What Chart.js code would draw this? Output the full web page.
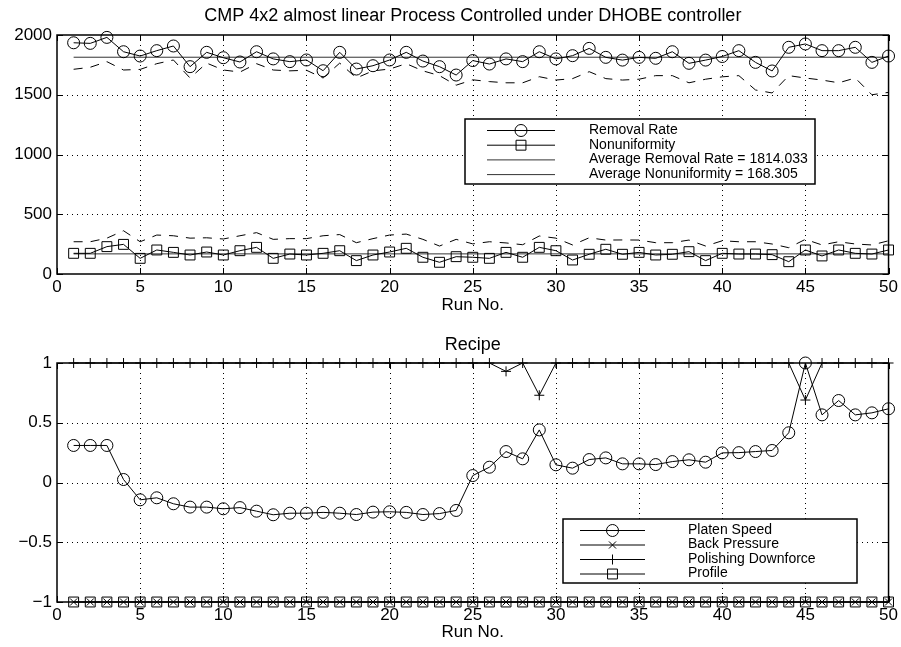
<!DOCTYPE html>
<html><head><meta charset="utf-8">
<script src="https://cdn.jsdelivr.net/npm/chart.js@4.4.1/dist/chart.umd.min.js"></script>
<style>
html,body{margin:0;padding:0;background:#fff;}
#wrap{position:relative;width:901px;height:647px;overflow:hidden;background:#fff;}
#c1{position:absolute;left:0;top:0;}
#c2{position:absolute;left:0;top:323px;}
</style></head><body>
<div id="wrap"><canvas id="c1" width="901" height="323"></canvas><canvas id="c2" width="901" height="324"></canvas></div>
<script>
// ---------------- data ----------------
const runs = [1,2,3,4,5,6,7,8,9,10,11,12,13,14,15,16,17,18,19,20,21,22,23,24,25,26,27,28,29,30,31,32,33,34,35,36,37,38,39,40,41,42,43,44,45,46,47,48,49,50];
const removalRate = [1935,1930,1980,1860,1824,1869,1908,1735,1855,1810,1774,1860,1800,1777,1791,1701,1855,1715,1743,1791,1855,1782,1735,1665,1786,1757,1800,1777,1860,1800,1827,1888,1813,1790,1813,1805,1860,1763,1790,1820,1869,1771,1699,1897,1925,1869,1869,1897,1771,1824];
const nonuniformity = [173,173,229,248,131,201,181,159,184,159,195,223,131,167,159,173,195,112,159,184,215,140,98,145,140,131,181,140,223,195,117,165,207,165,181,159,165,187,112,173,167,167,162,103,201,151,201,173,167,201];
const removalDashed = [1713,1730,1777,1707,1712,1760,1791,1640,1765,1707,1690,1760,1707,1700,1705,1640,1765,1640,1700,1715,1760,1700,1660,1580,1625,1610,1600,1600,1651,1623,1635,1693,1635,1623,1630,1660,1660,1600,1630,1650,1660,1540,1515,1660,1640,1623,1600,1640,1500,1520];
const nonuniformityDashed = [270,270,300,362,270,326,320,300,303,293,320,346,290,296,296,320,330,262,296,326,334,290,234,290,252,270,260,245,318,300,243,303,284,285,284,262,262,284,234,278,270,270,251,220,290,243,270,251,243,278];
const avgRemovalRate = 1814.033;
const avgNonuniformity = 168.305;
const platenSpeed = [0.31,0.31,0.31,0.025,-0.145,-0.128,-0.178,-0.206,-0.206,-0.22,-0.21,-0.24,-0.27,-0.257,-0.257,-0.25,-0.257,-0.268,-0.248,-0.245,-0.25,-0.268,-0.26,-0.234,0.058,0.128,0.259,0.198,0.44,0.148,0.12,0.192,0.206,0.156,0.156,0.15,0.175,0.19,0.17,0.248,0.25,0.259,0.268,0.416,1.0,0.566,0.686,0.566,0.583,0.617];
const backPressure = [-1,-1,-1,-1,-1,-1,-1,-1,-1,-1,-1,-1,-1,-1,-1,-1,-1,-1,-1,-1,-1,-1,-1,-1,-1,-1,-1,-1,-1,-1,-1,-1,-1,-1,-1,-1,-1,-1,-1,-1,-1,-1,-1,-1,-1,-1,-1,-1,-1,-1];
const polishingDownforce = [1,1,1,1,1,1,1,1,1,1,1,1,1,1,1,1,1,1,1,1,1,1,1,1,1,1,0.93,1,0.73,1,1,1,1,1,1,1,1,1,1,1,1,1,1,1,0.69,1,1,1,1,1];
const profile = [-1,-1,-1,-1,-1,-1,-1,-1,-1,-1,-1,-1,-1,-1,-1,-1,-1,-1,-1,-1,-1,-1,-1,-1,-1,-1,-1,-1,-1,-1,-1,-1,-1,-1,-1,-1,-1,-1,-1,-1,-1,-1,-1,-1,-1,-1,-1,-1,-1,-1];
const xTicks = [0,5,10,15,20,25,30,35,40,45,50];
const topYTicks = [0,500,1000,1500,2000];
const bottomYTicks = [-1,-0.5,0,0.5,1];
const topTitle = 'CMP 4x2 almost linear Process Controlled under DHOBE controller';
const bottomTitle = 'Recipe';
const xTitle = 'Run No.';
const topLegendLabels = ['Removal Rate','Nonuniformity','Average Removal Rate = ' + avgRemovalRate.toFixed(3),'Average Nonuniformity = ' + avgNonuniformity.toFixed(3)];
const bottomLegendLabels = ['Platen Speed','Back Pressure','Polishing Downforce','Profile'];

// ---------------- helpers ----------------
const FONT = '"Liberation Sans", Arial, Helvetica, sans-serif';
const pts = ys => runs.map((r,i)=>({x:r,y:ys[i]}));
const flat = v => [{x:runs[0],y:v},{x:runs[runs.length-1],y:v}];
const minus = v => String(v).replace('-', '\u2212');

const matlabAxes = {
  id:'matlabAxes',
  beforeDatasetsDraw(chart){
    const {ctx, chartArea:a, scales:{x,y}} = chart;
    ctx.save();
    ctx.strokeStyle='#000'; ctx.lineWidth=1; ctx.setLineDash([1,4]);
    x.ticks.forEach(t=>{ if(t.value>x.min && t.value<x.max){ const px=Math.round(x.getPixelForValue(t.value))+0.5; ctx.beginPath(); ctx.moveTo(px,a.top); ctx.lineTo(px,a.bottom); ctx.stroke(); }});
    y.ticks.forEach(t=>{ if(t.value>y.min && t.value<y.max){ const py=Math.round(y.getPixelForValue(t.value))+0.5; ctx.beginPath(); ctx.moveTo(a.left,py); ctx.lineTo(a.right,py); ctx.stroke(); }});
    ctx.restore();
  },
  afterDatasetsDraw(chart){
    const {ctx, chartArea:a, scales:{x,y}} = chart;
    ctx.save();
    ctx.setLineDash([]); ctx.strokeStyle='#000'; ctx.lineWidth=1.5;
    ctx.strokeRect(a.left, a.top, a.right-a.left, a.bottom-a.top);
    ctx.lineWidth=1;
    const L=6;
    x.ticks.forEach(t=>{ const px=Math.round(x.getPixelForValue(t.value))+0.5; ctx.beginPath(); ctx.moveTo(px,a.bottom); ctx.lineTo(px,a.bottom-L); ctx.moveTo(px,a.top); ctx.lineTo(px,a.top+L); ctx.stroke(); });
    y.ticks.forEach(t=>{ const py=Math.round(y.getPixelForValue(t.value))+0.5; ctx.beginPath(); ctx.moveTo(a.left,py); ctx.lineTo(a.left+L,py); ctx.moveTo(a.right,py); ctx.lineTo(a.right-L,py); ctx.stroke(); });
    ctx.restore();
  }
};

function makeLegendPlugin(id, box, labels, styles){
  return {
    id,
    afterDraw(chart){
      const ctx = chart.ctx;
      ctx.save();
      ctx.setLineDash([]);
      ctx.fillStyle='#fff';
      ctx.fillRect(box.x, box.y, box.w, box.h);
      ctx.strokeStyle='#000'; ctx.lineWidth=1.5;
      ctx.strokeRect(box.x, box.y, box.w, box.h);
      ctx.font = box.fontSize + 'px ' + FONT;
      ctx.textBaseline='middle'; ctx.textAlign='left';
      labels.forEach((lab,i)=>{
        const yy = box.row0 + i*box.rowStep;
        const st = styles[i];
        ctx.strokeStyle = st.color; ctx.lineWidth = 1;
        ctx.beginPath(); ctx.moveTo(box.lx1, yy+0.5); ctx.lineTo(box.lx2, yy+0.5); ctx.stroke();
        if (st.pointStyle){
          ctx.fillStyle='rgba(0,0,0,0)';
          Chart.helpers.drawPoint(ctx, {pointStyle:st.pointStyle, radius:st.radius, rotation:0, borderWidth:1}, (box.lx1+box.lx2)/2, yy+0.5);
        }
        ctx.fillStyle='#000';
        ctx.fillText(lab, box.tx, yy);
      });
      ctx.restore();
    }
  };
}

function baseOptions(titleText, titlePad, yTicks, yMin, yMax, xAxisHeight, xTitlePadBottom){
  return {
    responsive:false, animation:false, devicePixelRatio:1,
    layout:{padding:{left:0,right:11,top:0,bottom:0}},
    plugins:{
      legend:{display:false}, tooltip:{enabled:false},
      title:{display:true, text:titleText, fullSize:false, color:'#000', font:{family:FONT,size:18,weight:'normal'}, padding:titlePad}
    },
    scales:{
      x:{type:'linear', min:0, max:50,
         grid:{display:false, drawTicks:false}, border:{display:false},
         afterBuildTicks:s=>{ s.ticks = xTicks.map(v=>({value:v})); },
         ticks:{color:'#000', padding:3, maxRotation:0, autoSkip:false, font:{family:FONT,size:17}, callback:v=>minus(v)},
         title:{display:true, text:xTitle, color:'#000', font:{family:FONT,size:17}, padding:{top:0,bottom:xTitlePadBottom}},
         afterFit:s=>{ s.height = xAxisHeight; }
      },
      y:{type:'linear', min:yMin, max:yMax,
         grid:{display:false, drawTicks:false}, border:{display:false},
         afterBuildTicks:s=>{ s.ticks = yTicks.map(v=>({value:v})); },
         ticks:{color:'#000', padding:5, autoSkip:false, font:{family:FONT,size:17}, callback:v=>minus(v)},
         afterFit:s=>{ s.width = 57; }
      }
    }
  };
}

const lineDS = (label, data, extra) => Object.assign({
  label, data, borderColor:'#000', borderWidth:1, backgroundColor:'rgba(0,0,0,0)',
  pointBorderColor:'#000', pointBackgroundColor:'rgba(0,0,0,0)', pointBorderWidth:1,
  pointRadius:0, tension:0, clip:false
}, extra);

// ---------------- top chart ----------------
const topLegend = makeLegendPlugin('topLegend',
  {x:465,y:119,w:350,h:65,row0:130,rowStep:14.7,lx1:487,lx2:555,tx:589,fontSize:14},
  topLegendLabels,
  [{color:'#000',pointStyle:'circle',radius:6},{color:'#000',pointStyle:'rect',radius:7},{color:'#333'},{color:'#333'}]);

new Chart(document.getElementById('c1'), {
  type:'line',
  data:{datasets:[
    lineDS(topLegendLabels[0], pts(removalRate), {pointStyle:'circle', pointRadius:6}),
    lineDS(topLegendLabels[1], pts(nonuniformity), {pointStyle:'rect', pointRadius:7}),
    lineDS(topLegendLabels[2], flat(avgRemovalRate), {borderColor:'#333'}),
    lineDS(topLegendLabels[3], flat(avgNonuniformity), {borderColor:'#333'}),
    lineDS('Removal Rate (dashed)', pts(removalDashed), {borderDash:[9,8]}),
    lineDS('Nonuniformity (dashed)', pts(nonuniformityDashed), {borderDash:[9,8]})
  ]},
  options: baseOptions(topTitle, {top:5,bottom:8.4}, topYTicks, 0, 2000, 49, 7.8),
  plugins:[matlabAxes, topLegend]
});

// ---------------- bottom chart ----------------
const bottomLegend = makeLegendPlugin('bottomLegend',
  {x:563,y:519,w:294,h:64,row0:530,rowStep:14.5,lx1:580,lx2:645,tx:688,fontSize:14},
  bottomLegendLabels,
  [{color:'#000',pointStyle:'circle',radius:6},{color:'#000',pointStyle:'crossRot',radius:5},{color:'#000',pointStyle:'cross',radius:5},{color:'#000',pointStyle:'rect',radius:7}]);
// shift legend to canvas coords (canvas 2 starts at y=323)
const OFF = 323;
bottomLegend.afterDraw = (function(orig){ return function(chart){ chart.ctx.save(); chart.ctx.translate(0,-OFF); orig.call(this, chart); chart.ctx.restore(); }; })(bottomLegend.afterDraw);

new Chart(document.getElementById('c2'), {
  type:'line',
  data:{datasets:[
    lineDS(bottomLegendLabels[0], pts(platenSpeed), {pointStyle:'circle', pointRadius:6}),
    lineDS(bottomLegendLabels[1], pts(backPressure), {pointStyle:'crossRot', pointRadius:5}),
    lineDS(bottomLegendLabels[2], pts(polishingDownforce), {pointStyle:'cross', pointRadius:5}),
    lineDS(bottomLegendLabels[3], pts(profile), {pointStyle:'rect', pointRadius:7})
  ]},
  options: baseOptions(bottomTitle, {top:11.2,bottom:7.2}, bottomYTicks, -1, 1, 45, 4.8),
  plugins:[matlabAxes, bottomLegend]
});
</script>
</body></html>
